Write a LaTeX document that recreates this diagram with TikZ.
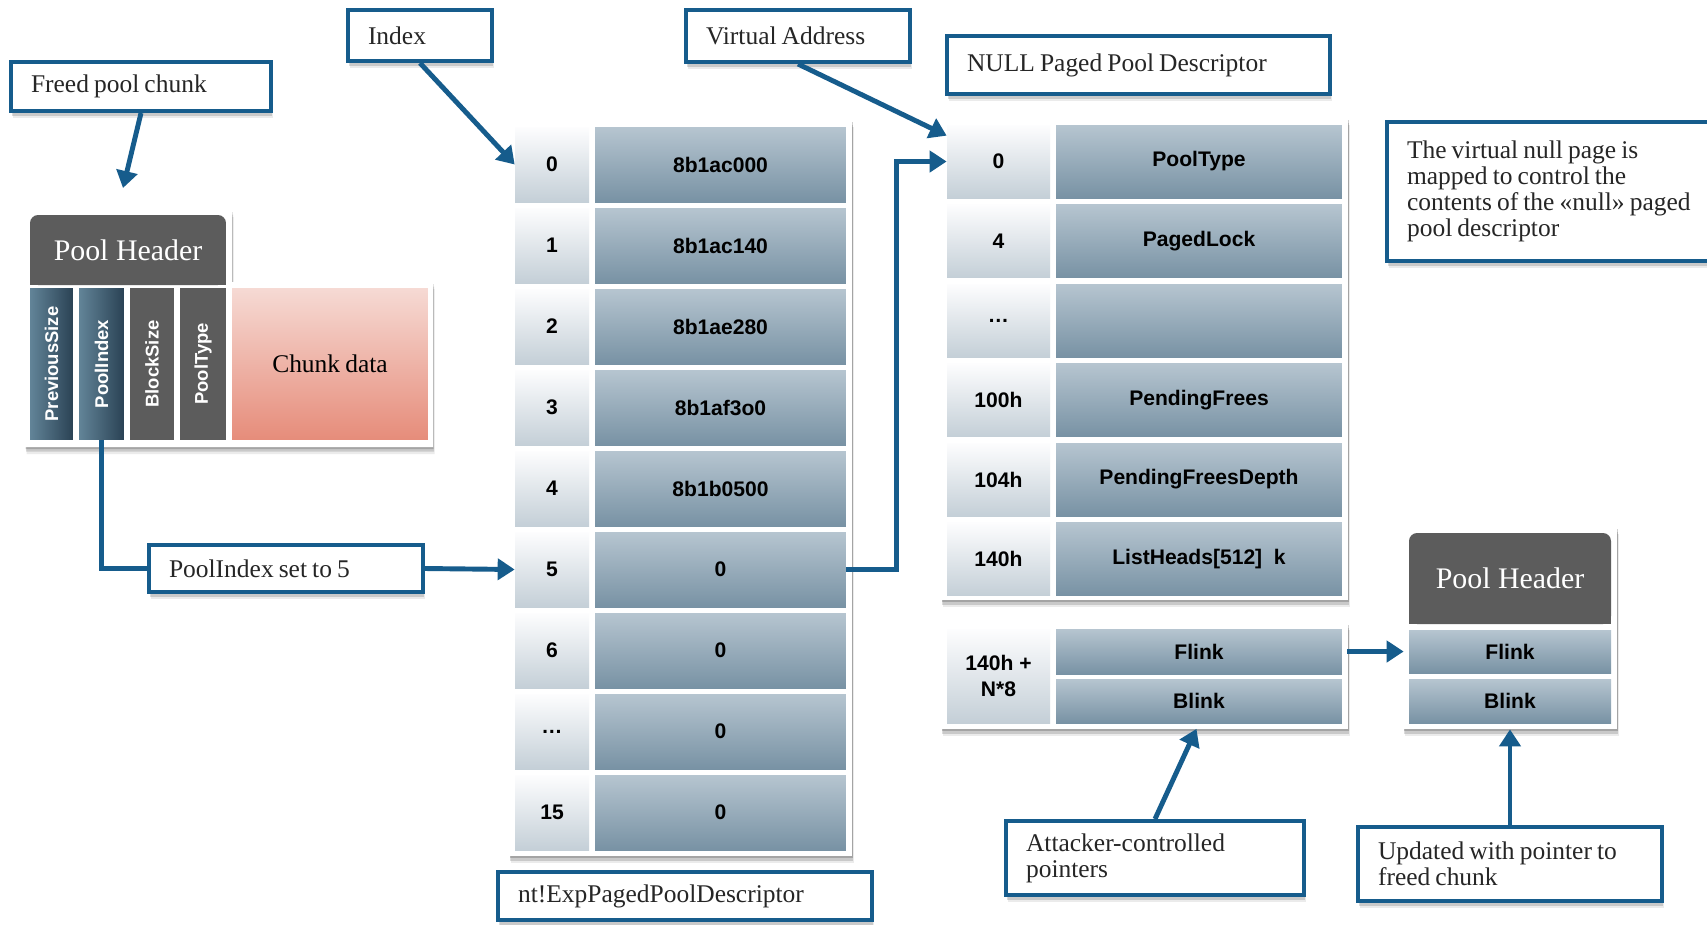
\documentclass[tikz,border=0pt]{standalone}
\usepackage{fontspec}
\setmainfont{Liberation Serif}
\setsansfont{Liberation Sans}
\usetikzlibrary{arrows.meta,shadows}
\definecolor{ptrblue}{RGB}{22,92,140}
\definecolor{valtop}{RGB}{182,197,208}
\definecolor{valbot}{RGB}{120,146,164}
\definecolor{idxtop}{RGB}{253,253,254}
\definecolor{idxbot}{RGB}{196,207,215}
\definecolor{hdrgray}{RGB}{92,92,92}
\definecolor{fldlight}{RGB}{98,132,152}
\definecolor{flddark}{RGB}{42,66,84}
\definecolor{chunktop}{RGB}{246,218,212}
\definecolor{chunkbot}{RGB}{230,140,122}
\newcommand\lblfont{\rmfamily\fontsize{14.5}{14.8}\selectfont\spaceskip=0.2em plus 0.05em minus 0.03em\relax}
\newcommand\cellfont{\sffamily\bfseries\fontsize{12}{14.7}\selectfont}
\newcommand\hdrfont{\rmfamily\fontsize{17}{18}\selectfont}
\newcommand\fldfont{\sffamily\bfseries\fontsize{10.5}{11}\selectfont}
\begin{document}
\begin{tikzpicture}[x=0.02cm,y=-0.02cm,
    soft/.style={drop shadow={shadow xshift=0.3pt,shadow yshift=-1.2pt,opacity=0.18,fill=black},
        drop shadow={shadow xshift=0.6pt,shadow yshift=-2.6pt,opacity=0.14,fill=black},
        drop shadow={shadow xshift=0.9pt,shadow yshift=-4pt,opacity=0.08,fill=black}},
    callout/.style={draw=ptrblue,line width=2.3pt,fill=white,font=\lblfont,align=flush left,
        inner xsep=0.4cm,inner ysep=0.05cm,text=black!85,soft},
    card/.style={fill=white,soft},
    idxcell/.style={top color=idxtop,bottom color=idxbot,font=\cellfont,inner sep=0pt},
    valcell/.style={top color=valtop,bottom color=valbot,font=\cellfont,inner sep=0pt},
    field/.style={font=\fldfont,text=white,inner sep=0pt,minimum height=3.04cm},
    hdr/.style={fill=hdrgray,rounded corners=0.16cm,font=\hdrfont,text=white},
    ptr/.style={draw=ptrblue,line width=2.8pt,-{Triangle[length=0.34cm,width=0.42cm]}},
    link/.style={draw=ptrblue,line width=2.8pt}]
    \useasboundingbox (0,0) rectangle (1707,924);
    \clip (0,0) rectangle (1707,924);
    \fill[white] (0,0) rectangle (1707,924);

    \fill[card] (25,210) -- (232,210) -- (232,282) -- (433,282) -- (433,447) -- (25,447) -- cycle;
    \fill[hdrgray] (30,250) rectangle (226,285);
    \node[hdr,minimum width=3.92cm,minimum height=1.4cm] (hdrL) at (128,250) {Pool Header};
    \foreach \p/\x/\w/\t in {fPS/51.5/0.86/PreviousSize,fPI/101.5/0.9/PoolIndex} {
        \node[field,left color=fldlight,right color=flddark,minimum width=\w cm] (\p) at (\x,364) {\rotatebox{90}{\t}};
    }
    \foreach \p/\x/\w/\t in {fBS/152/0.88/BlockSize,fPT/203/0.92/PoolType} {
        \node[field,fill=hdrgray,minimum width=\w cm] (\p) at (\x,364) {\rotatebox{90}{\t}};
    }
    \node[top color=chunktop,bottom color=chunkbot,minimum width=3.92cm,minimum height=3.04cm,font=\lblfont] (chunk) at (330,364) {Chunk data};

    \fill[card] (509,120) rectangle (852,856);
    \foreach \i/\n/\v in {0/0/8b1ac000,1/1/8b1ac140,2/2/8b1ae280,3/3/8b1af3o0,4/4/8b1b0500,5/5/0,6/6/0,7/\dots/0,8/15/0} {
        \node[idxcell,minimum width=1.48cm,minimum height=1.5cm] (idx\i) at (552,164.5+81*\i) {\n};
        \node[valcell,minimum width=5.02cm,minimum height=1.5cm] (val\i) at (720.5,164.5+81*\i) {\v};
    }

    \fill[card] (941,118) rectangle (1348,600);
    \foreach \i/\n/\v in {0/0/PoolType,1/4/PagedLock,2/\dots/{},3/100h/PendingFrees,4/104h/PendingFreesDepth,5/140h/ListHeads[512]\ \ k} {
        \node[idxcell,minimum width=2.06cm,minimum height=1.46cm] (nidx\i) at (998.5,161.5+79.5*\i) {\n};
        \node[valcell,minimum width=5.72cm,minimum height=1.46cm] (nval\i) at (1199,161.5+79.5*\i) {\v};
    }

    \fill[card] (941,623) rectangle (1348,729);
    \node[idxcell,minimum width=2.06cm,minimum height=1.88cm,align=center] (lnkidx) at (998.5,676) {140h +\\N*8};
    \node[valcell,minimum width=5.72cm,minimum height=0.9cm] (flinkL) at (1199,651.5) {Flink};
    \node[valcell,minimum width=5.72cm,minimum height=0.88cm] (blinkL) at (1199,701) {Blink};

    \fill[card] (1403,527) rectangle (1617,729);
    \fill[hdrgray] (1409,578) rectangle (1611,624);
    \node[hdr,minimum width=4.04cm,minimum height=1.82cm] (hdrR) at (1510,578.5) {Pool Header};
    \node[valcell,minimum width=4.04cm,minimum height=0.86cm] (flinkR) at (1510,651.5) {Flink};
    \node[valcell,minimum width=4.04cm,minimum height=0.88cm] (blinkR) at (1510,701) {Blink};

    \node[callout,text width=4.4cm,minimum height=0.98cm] (freed) at (141,86.5) {Freed pool chunk};
    \node[callout,text width=2.08cm,minimum height=1.02cm] (index) at (420,35.5) {Index};
    \node[callout,text width=3.68cm,minimum height=1.04cm] (vaddr) at (798,36) {Virtual Address};
    \node[callout,text width=6.86cm,minimum height=1.16cm] (nulldesc) at (1138.5,65) {NULL Paged Pool Descriptor};
    \node[callout,text width=6.26cm,minimum height=2.78cm] (note) at (1563.5,191.5) {The virtual null page is\\mapped to control the\\contents of the «null» paged\\pool descriptor};
    \node[callout,text width=4.68cm,minimum height=0.94cm] (setidx) at (286,568.5) {PoolIndex set to 5};
    \node[callout,text width=6.68cm,minimum height=0.96cm] (expdesc) at (685,896) {nt!ExpPagedPoolDescriptor};
    \node[callout,text width=5.16cm,minimum height=1.48cm] (attacker) at (1155,858) {Attacker-controlled\\pointers};
    \node[callout,text width=5.28cm,minimum height=1.48cm] (updated) at (1510,864) {Updated with pointer to\\freed chunk};

    \coordinate (hdrtip) at (123,188);
    \draw[ptr] (freed.south) -- (hdrtip);
    \draw[ptr] (index.south) -- (idx0.west);
    \draw[ptr] (vaddr.south) -- ([yshift=-0.22cm]nidx0.north west);
    \draw[ptr] (val5.east) -- ++(50,0) |- (nidx0.west);
    \draw[link] (fPI.south) |- (setidx.west);
    \draw[ptr] (setidx.east) -- (idx5.west);
    \draw[ptr,shorten <=0.1cm,shorten >=0.1cm] (flinkL.east) -- (flinkR.west);
    \draw[ptr,shorten >=0.12cm] (attacker.north) -- (blinkL.south);
    \draw[ptr,shorten >=0.12cm] (updated.north) -- (blinkR.south);
\end{tikzpicture}
\end{document}
